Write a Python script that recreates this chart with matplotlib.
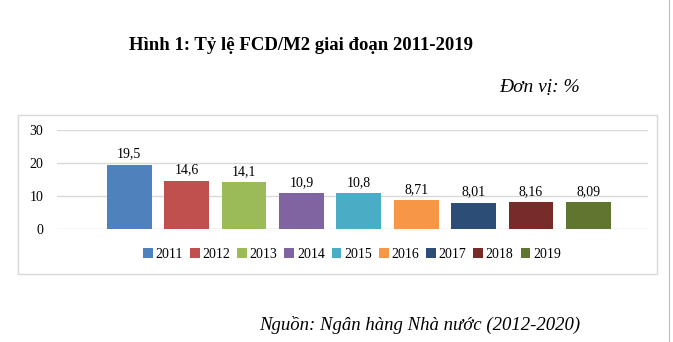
import matplotlib.pyplot as plt
from matplotlib.patches import Rectangle
from matplotlib.lines import Line2D

years = ['2011', '2012', '2013', '2014', '2015', '2016', '2017', '2018', '2019']
values = [19.5, 14.6, 14.1, 10.9, 10.8, 8.71, 8.01, 8.16, 8.09]
labels = ['19,5', '14,6', '14,1', '10,9', '10,8', '8,71', '8,01', '8,16', '8,09']
colors = ['#4F81BD', '#C0504D', '#9BBB59', '#8064A2', '#4BACC6',
          '#F79646', '#2C4D75', '#772C2A', '#5F7530']

plt.rcParams['font.family'] = ['Liberation Serif', 'DejaVu Serif']

fig = plt.figure(figsize=(6.73, 3.42), dpi=100)

# chart frame
fig.patches.append(Rectangle((18 / 673, 1 - 274 / 342), 639 / 673, 159 / 342,
                             transform=fig.transFigure, fill=False,
                             edgecolor='#D9D9D9', linewidth=1))
fig.lines.append(Line2D([669 / 673, 669 / 673], [0, 1], transform=fig.transFigure,
                        color='#BFBFBF', linewidth=0.8))

ax = fig.add_axes([57 / 673, 1 - 229 / 342, 591 / 673, 99 / 342])
x = range(len(years))
bars = ax.bar(x, values, width=0.78, color=colors, label=years, zorder=2)
for b, lab in zip(bars, labels):
    ax.text(b.get_x() + b.get_width() / 2, b.get_height() + 1.3, lab,
            ha='center', va='bottom', fontsize=10)

ax.set_xlim(-1.26, 9.04)
ax.set_ylim(0, 30)
ax.set_yticks([0, 10, 20, 30])
ax.set_xticks([])
ax.grid(axis='y', color='#D9D9D9', linewidth=1, zorder=0)
for s in ax.spines.values():
    s.set_visible(False)
ax.tick_params(axis='y', length=0, labelsize=10, pad=10)

ax.legend(bars, years, loc='center', bbox_to_anchor=(352 / 673, 1 - 254 / 342),
          bbox_transform=fig.transFigure, ncol=9, frameon=False, fontsize=10,
          handlelength=0.7, handleheight=0.7, handletextpad=0.2, columnspacing=0.5)

fig.text(301 / 673, 1 - 45 / 342, 'Hình 1: Tỷ lệ FCD/M2 giai đoạn 2011-2019',
         ha='center', va='center', fontsize=13.5, fontweight='bold')
fig.text(580 / 673, 1 - 87 / 342, 'Đơn vị: %', ha='right', va='center',
         fontsize=14, style='italic')
fig.text(580 / 673, 1 - 325 / 342, 'Nguồn: Ngân hàng Nhà nước (2012-2020)',
         ha='right', va='center', fontsize=13.5, style='italic')

fig.savefig('out.png', dpi=100)
